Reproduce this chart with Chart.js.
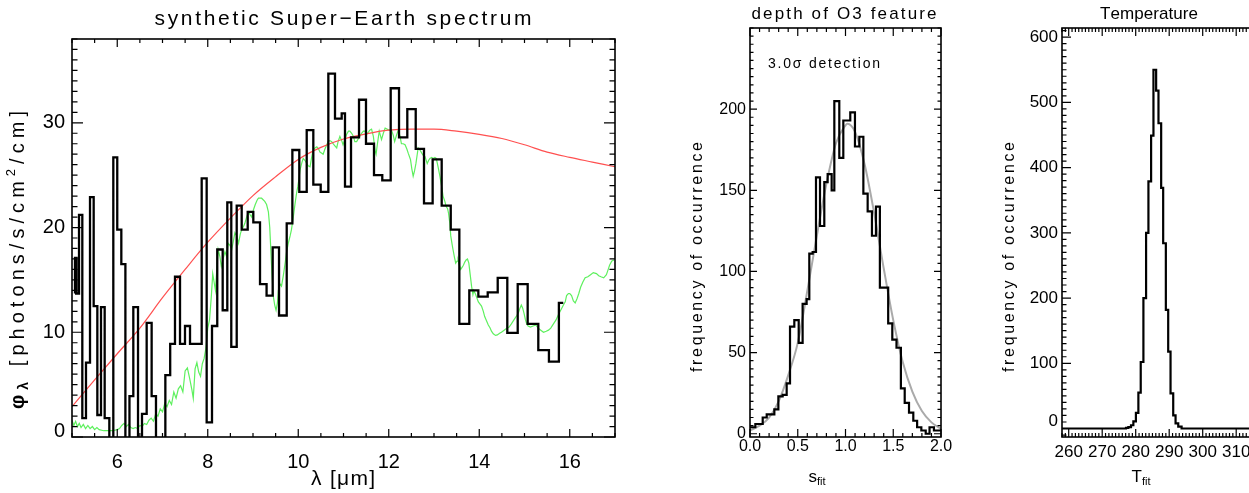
<!DOCTYPE html>
<html>
<head>
<meta charset="utf-8">
<script src="https://cdn.jsdelivr.net/npm/chart.js@4.4.0/dist/chart.umd.min.js"></script>
<style>
  html, body { margin: 0; padding: 0; background: #fff; overflow: hidden; }
  #wrap { position: relative; width: 1249px; height: 493px; overflow: hidden; }
  canvas { position: absolute; top: 0; }
</style>
</head>
<body>
<div id="wrap">
  <canvas id="spec" width="660" height="493" style="left:0px"></canvas>
  <canvas id="depth" width="310" height="493" style="left:660px"></canvas>
  <canvas id="temp" width="305" height="493" style="left:970px"></canvas>
</div>
<script>
const FONT = "'Liberation Sans', Arial, sans-serif";

// ---------- spectrum panel ----------
const specXTicks = [6, 8, 10, 12, 14, 16];
const specYTicks = [0, 10, 20, 30];
// binned spectrum: wavelength where the step happens, flux after the step
const specStepX = [5.066, 5.066, 5.10, 5.066, 5.155, 5.228, 5.309, 5.398, 5.479, 5.56, 5.641, 5.722, 5.825, 5.913, 6.0, 6.09, 6.18, 6.27, 6.355, 6.459, 6.547, 6.65, 6.76, 6.856, 7.063, 7.17, 7.276, 7.387, 7.497, 7.608, 7.866, 7.976, 8.094, 8.21, 8.33, 8.432, 8.52, 8.64, 8.75, 8.883, 9.007, 9.155, 9.30, 9.435, 9.575, 9.745, 9.87, 10.023, 10.187, 10.333, 10.496, 10.665, 10.812, 10.96, 11.033, 11.166, 11.343, 11.497, 11.674, 11.857, 12.043, 12.227, 12.41, 12.596, 12.779, 12.97, 13.17, 13.37, 13.56, 13.78, 13.98, 14.187, 14.408, 14.62, 14.85, 15.07, 15.305, 15.54, 15.76, 15.857];
const specStepY = [13.7, 17.1, 13.7, 13.7, 21.2, 1.8, 7.1, 22.9, 12.5, 2.1, 12.4, 1.8, -3, 26.7, 19.8, 16.5, -3, 3.9, 12.4, -3, 2.2, 10.9, 3.9, -3, 5.9, 8.9, 15.3, 8.9, 10.6, 8.9, 24.7, 1.4, 10.6, 17.9, 12.1, 22.4, 8.6, 22.1, 19.8, 21.5, 20.5, 14.6, 13.5, 18.1, 11.6, 20.4, 27.4, 23.4, 29.3, 24.1, 23.4, 34.7, 30.4, 30.9, 23.9, 28.6, 32.2, 28.0, 25.0, 24.5, 33.3, 28.6, 31.3, 27.5, 22.3, 26.5, 22.1, 19.8, 10.8, 14.0, 13.4, 13.8, 15.2, 9.95, 14.6, 10.8, 8.3, 7.2, 12.8, 12.8];
// high resolution model spectrum (green)
const hiresLam = [5.00, 5.04, 5.08, 5.12, 5.16, 5.20, 5.25, 5.30, 5.35, 5.40, 5.45, 5.50, 5.55, 5.60, 5.70, 5.80, 5.90, 6.00, 6.05, 6.10, 6.15, 6.20, 6.25, 6.30, 6.35, 6.40, 6.45, 6.50, 6.55, 6.60, 6.65, 6.70, 6.75, 6.80, 6.85, 6.90, 6.95, 7.00, 7.05, 7.10, 7.15, 7.20, 7.25, 7.30, 7.35, 7.40, 7.45, 7.50, 7.55, 7.60, 7.65, 7.68, 7.72, 7.76, 7.80, 7.84, 7.88, 7.92, 7.96, 8.00, 8.04, 8.08, 8.11, 8.14, 8.17, 8.20, 8.23, 8.27, 8.30, 8.34, 8.38, 8.42, 8.45, 8.49, 8.53, 8.57, 8.60, 8.64, 8.68, 8.72, 8.75, 8.79, 8.82, 8.86, 8.90, 8.94, 8.97, 9.01, 9.05, 9.09, 9.12, 9.19, 9.26, 9.30, 9.34, 9.37, 9.39, 9.42, 9.45, 9.48, 9.51, 9.54, 9.56, 9.60, 9.63, 9.67, 9.71, 9.74, 9.78, 9.82, 9.85, 9.89, 9.93, 9.96, 9.99, 10.02, 10.04, 10.08, 10.11, 10.15, 10.19, 10.22, 10.26, 10.30, 10.33, 10.37, 10.41, 10.45, 10.48, 10.52, 10.55, 10.59, 10.63, 10.66, 10.70, 10.74, 10.77, 10.81, 10.85, 10.88, 10.92, 10.96, 10.99, 11.03, 11.07, 11.11, 11.14, 11.18, 11.22, 11.25, 11.29, 11.33, 11.36, 11.40, 11.44, 11.47, 11.51, 11.55, 11.58, 11.62, 11.66, 11.70, 11.72, 11.75, 11.79, 11.84, 11.88, 11.92, 11.96, 12.00, 12.06, 12.10, 12.13, 12.17, 12.21, 12.25, 12.28, 12.32, 12.36, 12.40, 12.43, 12.48, 12.51, 12.54, 12.57, 12.60, 12.63, 12.65, 12.69, 12.73, 12.76, 12.80, 12.85, 12.88, 12.91, 12.95, 12.98, 13.02, 13.05, 13.09, 13.13, 13.17, 13.20, 13.24, 13.27, 13.30, 13.32, 13.35, 13.37, 13.40, 13.42, 13.45, 13.48, 13.51, 13.53, 13.56, 13.59, 13.62, 13.65, 13.68, 13.71, 13.74, 13.77, 13.80, 13.83, 13.86, 13.88, 13.92, 13.98, 14.05, 14.09, 14.12, 14.16, 14.20, 14.24, 14.27, 14.31, 14.36, 14.40, 14.45, 14.49, 14.55, 14.60, 14.66, 14.71, 14.77, 14.83, 14.87, 14.90, 14.93, 14.96, 14.99, 15.02, 15.05, 15.08, 15.13, 15.19, 15.25, 15.30, 15.36, 15.42, 15.48, 15.53, 15.58, 15.64, 15.70, 15.75, 15.80, 15.86, 15.90, 15.93, 15.97, 16.00, 16.04, 16.08, 16.12, 16.16, 16.20, 16.24, 16.29, 16.34, 16.40, 16.46, 16.52, 16.59, 16.64, 16.69, 16.75, 16.81, 16.85, 16.88, 16.93, 16.98, 17.00];
const hiresFlux = [1.6, 1.1, 1.5, 1.0, 1.3, 0.9, 1.2, 0.8, 1.1, 0.8, 1.0, 0.7, 0.9, 0.7, 0.6, 0.6, 0.6, 0.7, 0.8, 1.1, 1.3, 1.0, 1.2, 0.9, 0.8, 0.9, 0.8, 1.1, 1.0, 1.3, 1.2, 1.6, 1.8, 1.5, 2.2, 2.0, 2.7, 2.4, 3.2, 2.9, 3.5, 3.1, 4.3, 3.7, 4.6, 4.9, 4.3, 6.3, 6.6, 5.6, 4.5, 3.7, 6.5, 7.1, 6.2, 5.8, 7.0, 7.5, 8.5, 10.4, 11.2, 13.5, 15.6, 14.8, 14.0, 16.0, 17.9, 17.2, 16.3, 17.0, 17.7, 17.2, 18.5, 18.3, 17.9, 18.8, 19.5, 19.2, 18.5, 19.4, 19.8, 20.1, 20.4, 21.0, 21.5, 21.2, 21.0, 21.7, 22.2, 22.6, 22.8, 22.8, 22.5, 22.2, 21.5, 20.0, 18.2, 15.5, 13.4, 12.6, 12.1, 12.8, 14.0, 14.6, 14.4, 15.4, 16.6, 17.6, 18.5, 19.2, 19.8, 21.0, 22.3, 23.2, 23.9, 24.8, 25.5, 26.2, 26.6, 26.4, 26.1, 25.9, 25.8, 26.8, 27.4, 27.6, 27.7, 27.5, 27.2, 27.1, 27.0, 27.5, 27.9, 28.2, 28.3, 28.2, 28.0, 27.8, 27.6, 28.2, 28.7, 28.3, 27.9, 28.4, 28.9, 29.2, 29.2, 29.0, 28.7, 28.2, 28.2, 28.5, 28.7, 29.0, 29.2, 29.2, 28.9, 29.1, 29.3, 29.4, 28.7, 27.3, 27.0, 28.0, 29.2, 28.4, 29.0, 29.5, 29.4, 29.3, 29.3, 28.8, 28.2, 28.8, 29.3, 28.7, 28.0, 28.0, 27.9, 27.5, 27.1, 26.5, 25.6, 24.9, 25.4, 26.1, 27.0, 27.6, 27.4, 27.1, 26.9, 26.8, 26.1, 26.4, 26.6, 26.7, 26.6, 26.7, 26.6, 25.8, 24.9, 23.9, 23.0, 22.5, 22.0, 21.8, 21.4, 20.4, 19.2, 18.4, 17.9, 17.2, 16.6, 16.8, 16.9, 16.4, 16.0, 16.2, 16.4, 16.7, 16.9, 17.0, 16.6, 15.5, 14.4, 13.6, 14.0, 13.6, 12.9, 12.5, 12.0, 11.5, 11.1, 10.7, 10.4, 10.1, 9.85, 9.7, 9.75, 9.9, 10.0, 10.2, 10.35, 10.5, 10.8, 11.2, 11.6, 11.9, 12.3, 12.6, 12.3, 11.8, 11.2, 10.8, 10.6, 10.5, 10.6, 10.7, 10.4, 10.2, 10.0, 10.1, 10.2, 10.4, 10.8, 11.2, 11.7, 12.1, 12.6, 12.9, 13.5, 13.7, 13.7, 13.5, 13.0, 12.8, 13.2, 13.7, 14.3, 14.8, 15.2, 15.3, 15.5, 15.7, 15.6, 15.4, 15.3, 15.2, 15.5, 16.0, 16.4, 16.8, 16.9];
// blackbody fit (red)
const bbLam = [5.0, 5.5, 6.0, 6.5, 7.0, 7.5, 8.0, 8.5, 9.0, 9.5, 10.0, 10.5, 11.0, 11.5, 12.0, 12.5, 13.0, 13.5, 14.0, 14.5, 15.0, 15.5, 16.0, 16.5, 17.0];
const bbFlux = [2.9, 5.45, 7.95, 10.4, 13.3, 16.0, 18.6, 20.9, 23.05, 24.85, 26.5, 27.65, 28.45, 28.95, 29.3, 29.4, 29.4, 29.2, 28.9, 28.5, 27.9, 27.2, 26.7, 26.25, 25.8];

// ---------- depth of O3 feature panel ----------
const depthXTicks = [0, 0.5, 1, 1.5, 2];
const depthYTicks = [0, 50, 100, 150, 200];
const depthEdges = [0.0, 0.056, 0.133, 0.175, 0.255, 0.297, 0.342, 0.384, 0.419, 0.464, 0.510, 0.551, 0.593, 0.621, 0.656, 0.691, 0.733, 0.778, 0.813, 0.855, 0.883, 0.935, 0.977, 1.05, 1.099, 1.145, 1.187, 1.232, 1.277, 1.319, 1.36, 1.405, 1.447, 1.49, 1.534, 1.58, 1.62, 1.665, 1.71, 1.75, 1.794, 1.84, 1.88, 1.926, 2.0];
const depthCounts = [4, 6, 10, 12, 15, 23, 24, 31, 66, 70, 56, 80, 83, 111, 112, 158, 128, 155, 160, 150, 205, 170, 193, 198, 177, 183, 148, 137, 122, 140, 90, 90, 68, 58, 53, 28, 19, 13, 8, 4, 2, 0, 4, 2];
// gaussian fit (grey)
const gaussS = [0.0, 0.1, 0.2, 0.3, 0.4, 0.5, 0.6, 0.7, 0.8, 0.9, 1.0, 1.02, 1.1, 1.2, 1.3, 1.4, 1.5, 1.6, 1.7, 1.8, 1.9, 2.0];
const gaussN = [2, 5, 10, 20, 36, 56, 88, 122, 154, 179, 190, 191, 186, 166, 136, 102, 70, 44, 26, 14, 7, 3];

// ---------- temperature panel ----------
const tempXTicks = [260, 270, 280, 290, 300, 310];
const tempYTicks = [0, 100, 200, 300, 400, 500, 600];
const tempEdges = [258, 277.1, 277.8, 278.6, 279.3, 280.06, 280.8, 281.5, 282.3, 283.1, 283.8, 284.6, 285.3, 286.1, 286.8, 287.6, 288.2, 289.0, 289.7, 290.4, 291.2, 291.9, 292.7, 293.7, 318];
const tempCounts = [0, 1, 2, 5, 11, 24, 55, 102, 200, 300, 379, 449, 550, 518, 468, 369, 284, 182, 118, 54, 20, 8, 3, 0];

function zipXY(xs, ys) { return xs.map((x, i) => ({ x: x, y: ys[i] })); }
function stepPoints(edges, counts) {
  return edges.map((e, i) => ({ x: e, y: counts[Math.min(i, counts.length - 1)] }));
}

function drawText(ctx, it) {
  ctx.save();
  ctx.translate(it.x, it.y);
  if (it.rot) ctx.rotate(it.rot);
  ctx.fillStyle = '#000';
  ctx.textBaseline = 'middle';
  ctx.textAlign = 'left';
  const glyphs = [];
  it.parts.forEach(p => {
    const size = it.size * (p.s || 1);
    const font = (p.bold ? 'bold ' : '') + size + 'px ' + FONT;
    ctx.font = font;
    for (const ch of p.t) glyphs.push({ ch: ch, font: font, w: ctx.measureText(ch).width, dy: (p.dy || 0) * it.size });
  });
  const raw = glyphs.reduce((s, g) => s + g.w, 0);
  const ls = it.w ? (it.w - raw) / Math.max(1, glyphs.length - 1) : 0;
  let x = -(raw + ls * (glyphs.length - 1)) / 2;
  glyphs.forEach(g => { ctx.font = g.font; ctx.fillText(g.ch, x, g.dy); x += g.w + ls; });
  ctx.restore();
}

// IDL style box: frame plus inward major/minor ticks on all four sides
function framePlugin(t) {
  return {
    id: 'idlFrame',
    afterDatasetsDraw(chart) {
      const { ctx, chartArea: a } = chart;
      const xs = chart.scales.x, ys = chart.scales.y;
      const isMajor = (v, arr) => arr.some(m => Math.abs(m - v) < 1e-6);
      ctx.save();
      ctx.strokeStyle = '#000';
      ctx.lineWidth = 1.2;
      ctx.beginPath();
      for (let k = Math.ceil(xs.min / t.xMinor - 1e-9); k * t.xMinor <= xs.max + 1e-9; k++) {
        const v = k * t.xMinor;
        const len = isMajor(v, t.xMajor) ? t.xLen : t.xLen / 2;
        const p = xs.getPixelForValue(v);
        ctx.moveTo(p, a.bottom); ctx.lineTo(p, a.bottom - len);
        ctx.moveTo(p, a.top); ctx.lineTo(p, a.top + len);
      }
      for (let k = Math.ceil(ys.min / t.yMinor - 1e-9); k * t.yMinor <= ys.max + 1e-9; k++) {
        const v = k * t.yMinor;
        const len = isMajor(v, t.yMajor) ? t.yLen : t.yLen / 2;
        const p = ys.getPixelForValue(v);
        ctx.moveTo(a.left, p); ctx.lineTo(a.left + len, p);
        ctx.moveTo(a.right, p); ctx.lineTo(a.right - len, p);
      }
      ctx.stroke();
      ctx.lineWidth = 1.6;
      ctx.strokeRect(a.left, a.top, a.right - a.left, a.bottom - a.top);
      // the lowest y label sits a little above its tick, as in the original
      if (t.zeroLift) {
        ctx.fillStyle = '#000';
        ctx.font = t.fontSize + 'px ' + FONT;
        ctx.textAlign = 'right';
        ctx.textBaseline = 'middle';
        ctx.fillText('0', a.left - t.yPad, ys.getPixelForValue(0) - t.zeroLift);
      }
      ctx.restore();
    }
  };
}

function textPlugin(items) {
  return { id: 'idlText', afterDraw(chart) { items.forEach(it => drawText(chart.ctx, it)); } };
}

function scales(o) {
  const font = { family: FONT, size: o.fontSize };
  const hidden = { display: false, drawTicks: false };
  return {
    x: {
      type: 'linear', position: 'bottom', min: o.xMin, max: o.xMax,
      grid: hidden, border: { display: false },
      ticks: { font: font, color: '#000', padding: o.xPad, autoSkip: false, maxRotation: 0, callback: o.xFmt },
      afterBuildTicks: s => { s.ticks = o.xTicks.map(v => ({ value: v })); },
      afterFit: s => { s.height = o.bottom; }
    },
    y: {
      type: 'linear', position: 'left', min: o.yMin, max: o.yMax,
      grid: hidden, border: { display: false },
      ticks: { font: font, color: '#000', padding: o.yPad, autoSkip: false,
        callback: v => (o.liftZero && v === 0 ? '' : String(v)) },
      afterBuildTicks: s => { s.ticks = o.yTicks.map(v => ({ value: v })); },
      afterFit: s => { s.width = o.left; }
    },
    x2: {
      type: 'linear', axis: 'x', position: 'top', min: o.xMin, max: o.xMax,
      grid: hidden, border: { display: false }, ticks: { display: false },
      afterFit: s => { s.height = o.top; }
    },
    y2: {
      type: 'linear', axis: 'y', position: 'right', min: o.yMin, max: o.yMax,
      grid: hidden, border: { display: false }, ticks: { display: false },
      afterFit: s => { s.width = o.right; }
    }
  };
}

const common = {
  responsive: false, animation: false, devicePixelRatio: 1,
  layout: { padding: 0 },
  plugins: { legend: { display: false }, tooltip: { enabled: false } },
  elements: { point: { radius: 0 } }
};

// ---- panel 1
new Chart(document.getElementById('spec'), {
  type: 'line',
  data: {
    datasets: [
      { data: zipXY(specStepX, specStepY), borderColor: '#000', borderWidth: 2.3, stepped: 'before' },
      { data: zipXY(bbLam, bbFlux), borderColor: '#ff5050', borderWidth: 1.2, cubicInterpolationMode: 'monotone' },
      { data: zipXY(hiresLam, hiresFlux), borderColor: '#5ef05e', borderWidth: 1.2, tension: 0 }
    ]
  },
  options: Object.assign({}, common, {
    scales: scales({ xMin: 5, xMax: 17, yMin: 0, yMax: 38, xTicks: specXTicks, yTicks: specYTicks, liftZero: true,
      fontSize: 20, xPad: 13, yPad: 7, left: 72, right: 45, top: 39, bottom: 56, xFmt: v => String(v) })
  }),
  plugins: [
    framePlugin({ xMajor: specXTicks, xMinor: 0.5, xLen: 8, yMajor: specYTicks, yMinor: 1, yLen: 11,
      zeroLift: 6, fontSize: 20, yPad: 7 }),
    textPlugin([
      { parts: [{ t: 'synthetic Super\u2212Earth spectrum' }], x: 343, y: 19, size: 21, w: 377 },
      { parts: [{ t: '\u03bb [\u03bcm]' }], x: 343, y: 479, size: 21, w: 64 },
      { parts: [{ t: '\u03c6', bold: true }, { t: '\u03bb', s: 0.7, dy: 0.3, bold: true }, { t: ' [photons/s/cm' }, { t: '2', s: 0.65, dy: -0.35 }, { t: '/cm]' }],
        x: 18, y: 260, size: 20, w: 298, rot: -Math.PI / 2 }
    ])
  ]
});

// ---- panel 2
new Chart(document.getElementById('depth'), {
  type: 'line',
  data: {
    datasets: [
      { data: stepPoints(depthEdges, depthCounts), borderColor: '#000', borderWidth: 2.2, stepped: 'before' },
      { data: zipXY(gaussS, gaussN), borderColor: '#aaaaaa', borderWidth: 2, cubicInterpolationMode: 'monotone' }
    ]
  },
  options: Object.assign({}, common, {
    scales: scales({ xMin: 0, xMax: 2, yMin: -2, yMax: 250, xTicks: depthXTicks, yTicks: depthYTicks,
      fontSize: 16, xPad: 0, yPad: 4, left: 90, right: 29, top: 28, bottom: 56, xFmt: v => v.toFixed(1) })
  }),
  plugins: [
    framePlugin({ xMajor: depthXTicks, xMinor: 0.1, xLen: 8, yMajor: depthYTicks, yMinor: 5, yLen: 7 }),
    textPlugin([
      { parts: [{ t: 'depth of O3 feature' }], x: 184, y: 14, size: 17, w: 185 },
      { parts: [{ t: '3.0\u03c3 detection' }], x: 164, y: 64, size: 14, w: 112 },
      { parts: [{ t: 'frequency of occurrence' }], x: 38, y: 257, size: 16, w: 230, rot: -Math.PI / 2 },
      { parts: [{ t: 's' }, { t: 'fit', s: 0.65, dy: 0.3 }], x: 157, y: 477, size: 17 }
    ])
  ]
});

// ---- panel 3
new Chart(document.getElementById('temp'), {
  type: 'line',
  data: {
    datasets: [
      { data: stepPoints(tempEdges, tempCounts), borderColor: '#000', borderWidth: 2.2, stepped: 'before' }
    ]
  },
  options: Object.assign({}, common, {
    scales: scales({ xMin: 258, xMax: 318, yMin: -13, yMax: 614, xTicks: tempXTicks, yTicks: tempYTicks, liftZero: true,
      fontSize: 17, xPad: 5, yPad: 4, left: 92, right: 12, top: 28, bottom: 56, xFmt: v => String(v) })
  }),
  plugins: [
    framePlugin({ xMajor: tempXTicks, xMinor: 1, xLen: 8, yMajor: tempYTicks, yMinor: 10, yLen: 9,
      zeroLift: 7, fontSize: 17, yPad: 4 }),
    textPlugin([
      { parts: [{ t: 'Temperature' }], x: 179, y: 14, size: 17, w: 98 },
      { parts: [{ t: 'frequency of occurrence' }], x: 40, y: 257, size: 16, w: 230, rot: -Math.PI / 2 },
      { parts: [{ t: 'T' }, { t: 'fit', s: 0.65, dy: 0.3 }], x: 171, y: 477, size: 17 }
    ])
  ]
});
</script>
</body>
</html>
